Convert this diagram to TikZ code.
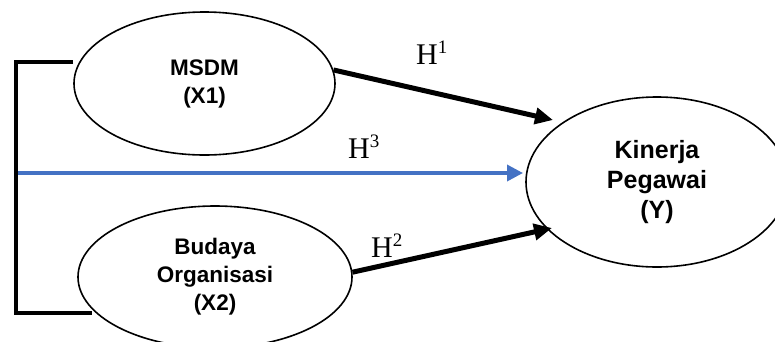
\documentclass[tikz,border=0pt]{standalone}
\usepackage{fontspec}
\setmainfont{Liberation Serif}
\setsansfont{Liberation Sans}
\usetikzlibrary{arrows.meta,shapes.geometric}
\definecolor{linkblue}{HTML}{4472C4}
\tikzset{
  construct/.style={ellipse, draw=black, line width=1.6pt, fill=white, align=center,
    font=\sffamily\bfseries\fontsize{22.5}{28}\selectfont, inner sep=0pt},
  path/.style={line width=5pt, -{Triangle[length=18pt,width=16pt]}},
  joint/.style={line width=3.5pt, draw=linkblue, -{Triangle[length=16pt,width=16pt]}},
  frame/.style={line width=4.5pt, line join=miter},
  hyp/.style={anchor=base west, inner sep=0pt, font=\fontsize{30}{30}\selectfont}
}
\newcommand{\hlabel}[1]{H\raisebox{11pt}{\fontsize{19}{19}\selectfont #1}}
\begin{document}
\begin{tikzpicture}[x=1pt,y=-1pt]
  \useasboundingbox (0,0) rectangle (775,341);

  % latent variables
  \node[construct, minimum width=261pt, minimum height=143pt] (x1) at (204.5,83.5) {MSDM\\(X1)};
  \node[construct, minimum width=274pt, minimum height=142pt] (x2) at (215,277) {Budaya\\Organisasi\\(X2)};
  \node[construct, minimum width=262pt, minimum height=170pt,
        font=\sffamily\bfseries\fontsize{25}{30}\selectfont] (y) at (657,182) {Kinerja\\Pegawai\\(Y)};

  % bracket joining X1 and X2
  \coordinate (bt) at (73,62);
  \coordinate (bb) at (92,313);
  \coordinate (bl) at (16,62);
  \coordinate (blb) at (16,313);
  \draw[frame] (bt) -- (bl) -- (blb) -- (bb);

  % arrow tips at the outcome
  \coordinate (t1) at (553,120);
  \coordinate (t2) at (552,228);
  \coordinate (s3) at (18,173);
  \coordinate (t3) at (523,173);

  % hypothesised paths
  \draw[path] (x1.6) -- (t1);
  \draw[path] (x2.2) -- (t2);
  \draw[joint] (s3) -- (t3);

  % hypothesis labels
  \node[hyp] (h1) at (416,64) {\hlabel{1}};
  \node[hyp] (h3) at (348,158) {\hlabel{3}};
  \node[hyp] (h2) at (371,257) {\hlabel{2}};
\end{tikzpicture}
\end{document}
